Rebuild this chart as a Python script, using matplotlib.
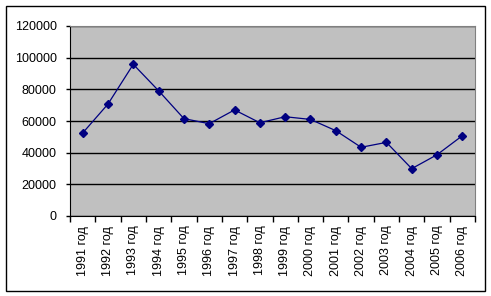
import numpy as np
import matplotlib.pyplot as plt
from matplotlib.patches import Rectangle

# %% данные
years = [f"{y} год" for y in range(1991, 2007)]
values = [52400, 70700, 95800, 79100, 61500, 58300, 67000, 58900,
          62700, 61000, 53900, 43400, 46500, 29900, 38700, 50700]
y_ticks = [0, 20000, 40000, 60000, 80000, 100000, 120000]

plt.rcParams['font.family'] = ['Liberation Sans', 'DejaVu Sans']

W, H = 491, 296
fig = plt.figure(figsize=(W / 100, H / 100), dpi=100)
fig.patch.set_facecolor('white')

# рамка диаграммы
fig.patches.append(Rectangle((5.5 / W, 1 - 290.5 / H), 479 / W, 285 / H,
                             transform=fig.transFigure, fill=False,
                             edgecolor='black', linewidth=1.0))

# область построения
l, r, t, b = 70, 475, 26, 216
ax = fig.add_axes([l / W, 1 - b / H, (r - l) / W, (b - t) / H])
ax.set_facecolor('#C0C0C0')

x = np.arange(1, len(years) + 1)
ax.set_xlim(0.5, len(years) + 0.5)
ax.set_ylim(0, 120000)

ax.set_yticks(y_ticks)
ax.set_yticklabels([str(v) for v in y_ticks], fontsize=9)
ax.yaxis.grid(True, color='black', linewidth=1.0)
ax.set_axisbelow(True)

ax.plot(x, values, color='#000080', linewidth=0.9, marker='D',
        markersize=4, markerfacecolor='#000080', markeredgecolor='#000080',
        zorder=3)

# деления между категориями, подписи по центру
ax.set_xticks(np.arange(0.5, len(years) + 1, 1))
ax.set_xticklabels([])
ax.set_xticks(x, minor=True)
ax.set_xticklabels(years, minor=True, rotation=90, fontsize=9, va='top')
ax.tick_params(axis='x', which='major', direction='out', length=4, width=1)
ax.tick_params(axis='x', which='minor', length=0, pad=7)
ax.tick_params(axis='y', direction='out', length=3, width=1, pad=6.5)

for side in ['top', 'right']:
    ax.spines[side].set_color('#808080')
for side in ['left', 'bottom']:
    ax.spines[side].set_color('black')

fig.savefig('out.png', dpi=100)
